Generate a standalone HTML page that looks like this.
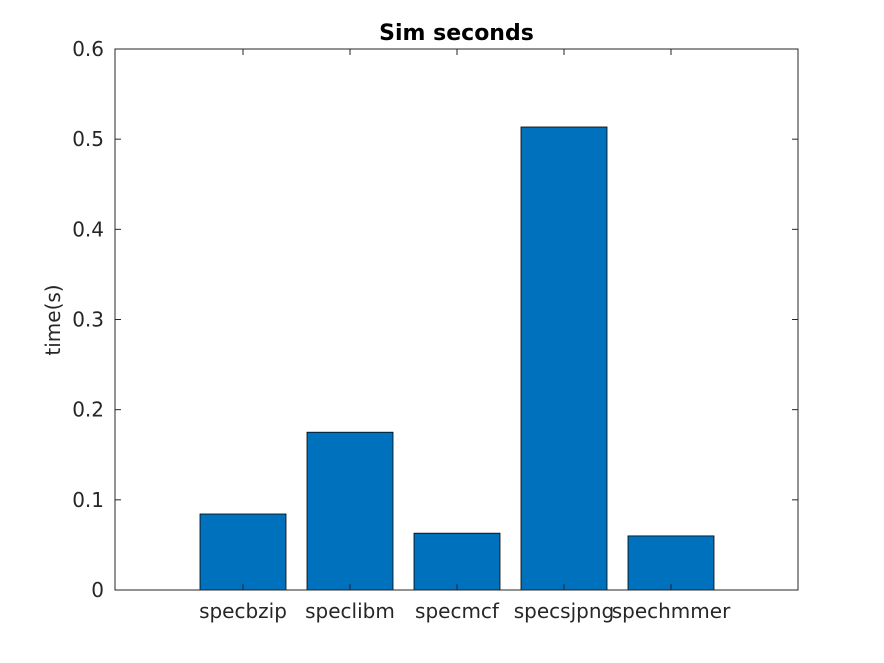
<!DOCTYPE html>
<html><head><meta charset="utf-8"><style>
html,body{margin:0;padding:0;background:#fff;}
svg{display:block;font-family:"DejaVu Sans","Liberation Sans",sans-serif;}
</style></head><body>
<svg id="chart" width="884" height="663" viewBox="0 0 884 663" xmlns="http://www.w3.org/2000/svg">
<rect width="884" height="663" fill="#fff"/>
<g id="plot"></g>
</svg>
<script>
const categories = ["specbzip","speclibm","specmcf","specsjpng","spechmmer"];
const values = [0.0843, 0.175, 0.063, 0.5135, 0.060];
const yTicks = [0, 0.1, 0.2, 0.3, 0.4, 0.5, 0.6];
const yTickLabels = ["0","0.1","0.2","0.3","0.4","0.5","0.6"];

const L=115, R=798, T=49, B=590, yMax=0.6;
const ns="http://www.w3.org/2000/svg";
const g=document.getElementById('plot');
function y(v){return B-(v/yMax)*(B-T);}
function x(i){return 243+107*i;}
const bw=86;
function mk(tag,attrs,parent){const e=document.createElementNS(ns,tag);for(const k in attrs)e.setAttribute(k,attrs[k]);(parent||g).appendChild(e);return e;}

mk('rect',{x:L,y:T,width:R-L,height:B-T,fill:'#fff'});
categories.forEach((c,i)=>{
  const r=mk('rect',{x:x(i)-bw/2,y:y(values[i]),width:bw,height:B-y(values[i]),fill:'#0072bd',stroke:'#000','stroke-width':0.8});
  
  
  const t=mk('text',{x:x(i),y:618,'text-anchor':'middle','font-size':20,fill:'#262626'});
  t.textContent=c;
  
  
  mk('line',{x1:x(i),x2:x(i),y1:B,y2:B-6,stroke:'#262626','stroke-width':1});
  mk('line',{x1:x(i),x2:x(i),y1:T,y2:T+6,stroke:'#262626','stroke-width':1});
});
yTicks.forEach((v,i)=>{
  mk('line',{x1:L,x2:L+6,y1:y(v),y2:y(v),stroke:'#262626','stroke-width':1});
  mk('line',{x1:R,x2:R-6,y1:y(v),y2:y(v),stroke:'#262626','stroke-width':1});
  const t=mk('text',{x:L-11,y:y(v)+7,'text-anchor':'end','font-size':20,fill:'#262626'});
  t.textContent=yTickLabels[i];
  
  
});
const frame=mk('rect',{x:L,y:T,width:R-L,height:B-T,fill:'none',stroke:'#262626','stroke-width':1});


const title=mk('text',{x:(L+R)/2,y:40,'text-anchor':'middle','font-size':22,'font-weight':'bold',fill:'#000'});
title.textContent='Sim seconds';


const yl=mk('text',{x:0,y:0,'text-anchor':'middle','font-size':20,fill:'#262626',transform:'translate(60,320) rotate(-90)'});
yl.textContent='time(s)';


</script>
</body></html>
